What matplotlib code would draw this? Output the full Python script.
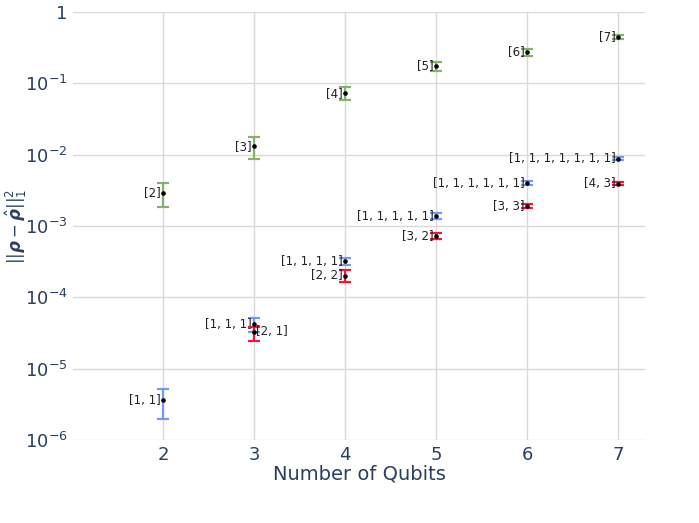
import matplotlib
matplotlib.use('Agg')
from matplotlib import pyplot
from matplotlib.ticker import FixedLocator, FixedFormatter

# single-block partitions [n]
green_qubits = [2, 3, 4, 5, 6, 7]
green_vals = [2.9e-3, 1.32e-2, 7.3e-2, 0.175, 0.275, 0.446]
green_hi = [4.0e-3, 1.77e-2, 8.9e-2, 0.20, 0.30, 0.475]
green_lo = [1.85e-3, 8.7e-3, 5.8e-2, 0.149, 0.245, 0.42]
green_labels = ['[2]', '[3]', '[4]', '[5]', '[6]', '[7]']

# all-ones partitions
blue_qubits = [2, 3, 4, 5, 6, 7]
blue_vals = [3.6e-6, 4.2e-5, 3.2e-4, 1.38e-3, 4.0e-3, 8.7e-3]
blue_hi = [5.2e-6, 5.1e-5, 3.6e-4, 1.5e-3, 4.25e-3, 9.2e-3]
blue_lo = [1.97e-6, 3.3e-5, 2.8e-4, 1.27e-3, 3.8e-3, 8.3e-3]
blue_labels = ['[1, 1]', '[1, 1, 1]', '[1, 1, 1, 1]', '[1, 1, 1, 1, 1]',
               '[1, 1, 1, 1, 1, 1]', '[1, 1, 1, 1, 1, 1, 1]']

# two-block partitions
red_qubits = [3, 4, 5, 6, 7]
red_vals = [3.27e-5, 2.0e-4, 7.2e-4, 1.9e-3, 3.9e-3]
red_hi = [3.9e-5, 2.4e-4, 7.9e-4, 2.05e-3, 4.15e-3]
red_lo = [2.45e-5, 1.64e-4, 6.6e-4, 1.78e-3, 3.7e-3]
red_labels = ['[2, 1]', '[2, 2]', '[3, 2]', '[3, 3]', '[4, 3]']

y_ticks = [1e-6, 1e-5, 1e-4, 1e-3, 1e-2, 1e-1, 1]
y_tick_labels = [r'$10^{-6}$', r'$10^{-5}$', r'$10^{-4}$', r'$10^{-3}$',
                 r'$10^{-2}$', r'$10^{-1}$', '1']
x_ticks = [2, 3, 4, 5, 6, 7]

pyplot.rcParams['font.family'] = ['DejaVu Sans']
pyplot.rcParams['mathtext.fontset'] = 'dejavusans'
text_col = '#2a3f5f'

fig = pyplot.figure(figsize=(6.99, 5.23), dpi=100)
ax = fig.add_axes([73 / 699, 1 - 440 / 523, 572 / 699, 428 / 523])


def draw_series(xs, vals, hi, lo, color, labels, right_idx=()):
    yerr = [[v - l for v, l in zip(vals, lo)], [h - v for v, h in zip(vals, hi)]]
    ax.errorbar(xs, vals, yerr=yerr, fmt='none', ecolor=color, elinewidth=1.6,
                capsize=4, capthick=1.6, zorder=3)
    ax.plot(xs, vals, 'o', color='black', markersize=2.3, zorder=4)
    for i, (x, v, lab) in enumerate(zip(xs, vals, labels)):
        if i in right_idx:
            ax.annotate(lab, (x, v), xytext=(1.5, 0), textcoords='offset points',
                        ha='left', va='center', fontsize=8.5, color='#222222')
        else:
            ax.annotate(lab, (x, v), xytext=(-1.5, 0), textcoords='offset points',
                        ha='right', va='center', fontsize=8.5, color='#222222')


draw_series(green_qubits, green_vals, green_hi, green_lo, '#84b26a', green_labels)
draw_series(blue_qubits, blue_vals, blue_hi, blue_lo, '#6f9bf0', blue_labels)
draw_series(red_qubits, red_vals, red_hi, red_lo, '#f0163c', red_labels, right_idx=(0,))

ax.set_yscale('log')
ax.set_ylim(1e-6, 1)
ax.set_xlim(1.011, 7.297)
ax.yaxis.set_major_locator(FixedLocator(y_ticks))
ax.yaxis.set_major_formatter(FixedFormatter(y_tick_labels))
ax.yaxis.set_minor_locator(FixedLocator([]))
ax.set_xticks(x_ticks)
ax.grid(color='#d9d9d9', linewidth=1)
ax.set_axisbelow(True)
for s in ax.spines.values():
    s.set_visible(False)
ax.tick_params(axis='both', length=0, labelsize=13, colors=text_col)
ax.tick_params(axis='x', pad=4)
ax.tick_params(axis='y', pad=4)
ax.set_xlabel('Number of Qubits', fontsize=14, color=text_col, labelpad=1)
ax.set_ylabel(r'$||\boldsymbol{\rho} - \hat{\boldsymbol{\rho}}||_1^2$', fontsize=12,
              color=text_col)
ax.yaxis.set_label_coords(-44 / 572, 0.5)

fig.savefig('out.png', dpi=100)
